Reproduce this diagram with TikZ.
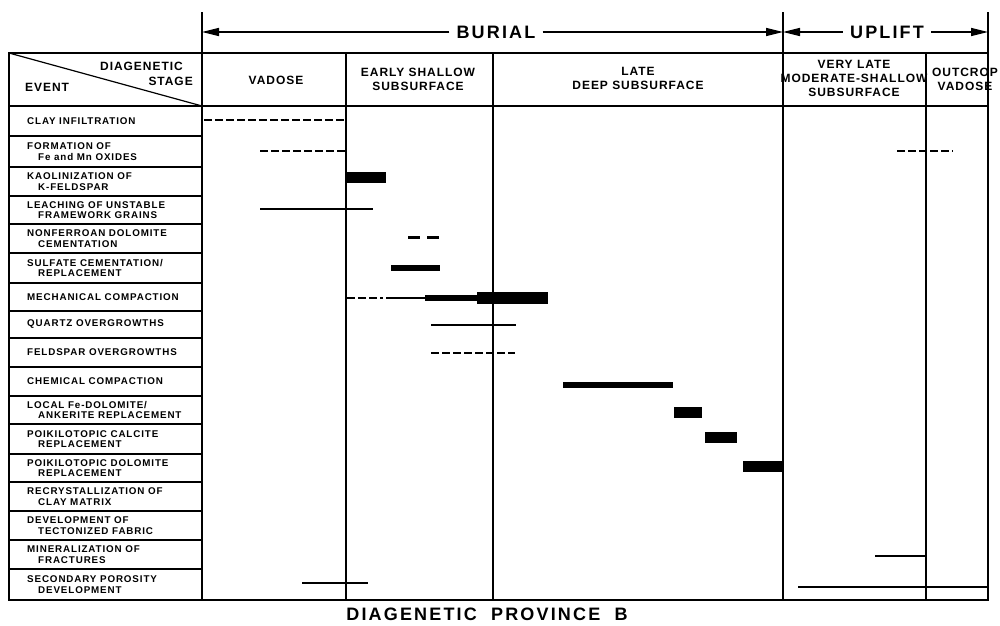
\documentclass[tikz,border=0pt]{standalone}
\usepackage{fontspec}
\setmainfont{Liberation Sans}
\newfontfamily\lblfam[LetterSpace=9]{Liberation Sans}
\newfontfamily\hdrfam[LetterSpace=8]{Liberation Sans}
\newfontfamily\bigfam[LetterSpace=12]{Liberation Sans}
\newcommand\lblfont{\lblfam\bfseries\fontsize{9.8}{10.6}\selectfont}
\newcommand\hdrfont{\hdrfam\bfseries\fontsize{12}{14}\selectfont}
\newcommand\bigfont{\bigfam\bfseries\fontsize{18}{20}\selectfont}
\usetikzlibrary{arrows.meta}
\begin{document}
\begin{tikzpicture}[x=1pt,y=-1pt,
  frame/.style={line width=2pt},
  colline/.style={line width=1.6pt},
  rowline/.style={line width=1.6pt},
  lbl/.style={anchor=west,inner sep=0pt,align=left,font=\lblfont},
  hdr/.style={inner sep=0pt,align=center,font=\hdrfont},
  big/.style={inner xsep=7pt,inner ysep=0pt,font=\bigfont},
  tick/.style={line width=2pt},
  arr/.style={line width=1.6pt,-{Triangle[length=17pt,width=8pt]}},
  solidbar/.style={line width=2pt},
  dashbar/.style={line width=2.2pt,dash pattern=on 8pt off 3pt},
  blockbar/.style={fill=black,draw=none}]
\useasboundingbox (0,0) rectangle (1000,625);
\fill[white] (0,0) rectangle (1000,625);

% ---- top arrows ----
\coordinate (tBL) at (202,32);
\coordinate (tBM) at (783,32);
\coordinate (tBR) at (988,32);
\draw[tick] (202,12) -- (202,53);
\draw[tick] (783,12) -- (783,53);
\draw[tick] (988,12) -- (988,53);
\node[big] (burial) at (496,32) {BURIAL};
\node[big] (uplift) at (887,32) {UPLIFT};
\draw[arr] (burial.west) -- (tBL);
\draw[arr] (burial.east) -- (tBM);
\draw[arr] (uplift.west) -- (tBM);
\draw[arr] (uplift.east) -- (tBR);

% ---- table frame ----
\draw[frame] (9,53) rectangle (988,600);
\draw[frame] (9,106) -- (988,106);
\draw[line width=1.2pt] (9,53) -- (202,106);
\foreach \x in {202,346,493,783,926}
  \draw[colline] (\x,53) -- (\x,600);
\foreach \y in {136,167,196,224,253,283,311,338,367,396,424,454,482,511,540,569}
  \draw[rowline] (9,\y) -- (202,\y);

% ---- header texts ----
\node[hdr,anchor=east] (hdiag) at (183,66) {DIAGENETIC};
\node[hdr,anchor=east] (hstage) at (193,81) {STAGE};
\node[hdr,anchor=west] (hevent) at (25,87) {EVENT};
\node[hdr] (hvad) at (276,80) {VADOSE};
\node[hdr] (hearly) at (418,79) {EARLY SHALLOW\\SUBSURFACE};
\node[hdr] (hlate) at (638,78) {LATE\\DEEP SUBSURFACE};
\node[hdr] (hvlate) at (854,78) {VERY LATE\\MODERATE-SHALLOW\\SUBSURFACE};
\node[hdr] (hout) at (965,79) {OUTCROP\\VADOSE};

% ---- event labels ----
\foreach \y/\t [count=\i] in {
  121/{CLAY INFILTRATION},
  151.5/{FORMATION OF\\\hspace*{11pt}Fe and Mn OXIDES},
  181.5/{KAOLINIZATION OF\\\hspace*{11pt}K-FELDSPAR},
  210/{LEACHING OF UNSTABLE\\\hspace*{11pt}FRAMEWORK GRAINS},
  238.5/{NONFERROAN DOLOMITE\\\hspace*{11pt}CEMENTATION},
  268/{SULFATE CEMENTATION/\\\hspace*{11pt}REPLACEMENT},
  297/{MECHANICAL COMPACTION},
  324.5/{QUARTZ OVERGROWTHS},
  352.5/{FELDSPAR OVERGROWTHS},
  381.5/{CHEMICAL COMPACTION},
  410/{LOCAL Fe-DOLOMITE/\\\hspace*{11pt}ANKERITE REPLACEMENT},
  439/{POIKILOTOPIC CALCITE\\\hspace*{11pt}REPLACEMENT},
  468/{POIKILOTOPIC DOLOMITE\\\hspace*{11pt}REPLACEMENT},
  496.5/{RECRYSTALLIZATION OF\\\hspace*{11pt}CLAY MATRIX},
  525.5/{DEVELOPMENT OF\\\hspace*{11pt}TECTONIZED FABRIC},
  554.5/{MINERALIZATION OF\\\hspace*{11pt}FRACTURES},
  584.5/{SECONDARY POROSITY\\\hspace*{11pt}DEVELOPMENT}}
  \node[lbl] (ev\i) at (27,\y) {\t};

% ---- bars ----
% 1 clay infiltration
\draw[dashbar] (204,120) -- (346,120);
% 2 Fe and Mn oxides
\draw[dashbar] (260,151) -- (346,151);
\draw[dashbar] (897,151) -- (953,151);
% 3 kaolinization
\fill[blockbar] (347,172) rectangle (386,183);
% 4 leaching
\draw[solidbar] (260,209) -- (373,209);
% 5 nonferroan dolomite
\draw[line width=2.6pt,dash pattern=on 12pt off 7pt] (408,237.5) -- (440,237.5);
% 6 sulfate
\fill[blockbar] (391,265) rectangle (440,271);
% 7 mechanical compaction
\draw[dashbar] (347,298) -- (383,298);
\draw[solidbar] (386,298) -- (425,298);
\fill[blockbar] (425,295) rectangle (477,301);
\fill[blockbar] (477,292) rectangle (548,304);
% 8 quartz
\draw[solidbar] (431,325) -- (516,325);
% 9 feldspar
\draw[dashbar] (431,353) -- (515,353);
% 10 chemical compaction
\fill[blockbar] (563,382) rectangle (673,388);
% 11 local Fe-dolomite
\fill[blockbar] (674,407) rectangle (702,418);
% 12 poikilotopic calcite
\fill[blockbar] (705,432) rectangle (737,443);
% 13 poikilotopic dolomite
\fill[blockbar] (743,461) rectangle (783,472);
% 16 mineralization
\draw[solidbar] (875,556) -- (926,556);
% 17 secondary porosity
\draw[solidbar] (302,583) -- (368,583);
\draw[solidbar] (798,587) -- (988,587);

% ---- title ----
\node[inner sep=0pt,anchor=base,font=\bigfont] (title) at (487,620) {DIAGENETIC~ PROVINCE~ B};
\end{tikzpicture}
\end{document}
